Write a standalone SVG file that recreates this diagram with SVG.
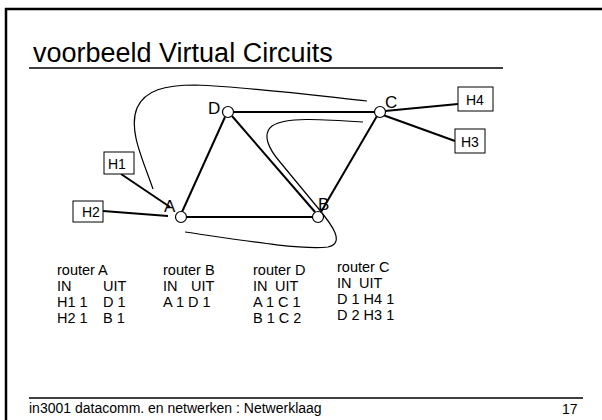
<svg xmlns="http://www.w3.org/2000/svg" width="602" height="420" viewBox="0 0 602 420">
<style>
text{font-family:"Liberation Sans",Arial,sans-serif;fill:#000}
.edge{stroke:#000;stroke-width:2;fill:none}
.vc{stroke:#000;stroke-width:1.2;fill:none}
.router{fill:#fff;stroke:#000;stroke-width:1.2}
.host rect{fill:#fff;stroke:#000;stroke-width:1}
.host text{font-size:14px}
.lbl{font-size:17px}
.tbl{font-size:14.5px}
</style>
<rect x="0" y="0" width="602" height="420" fill="#fff"/>
<g id="frame">
<line x1="5" y1="9" x2="602" y2="9" stroke="#000" stroke-width="2.5"/>
<line x1="6" y1="8" x2="6" y2="420" stroke="#000" stroke-width="2.5"/>
<text x="33" y="62" font-size="27">voorbeeld Virtual Circuits</text>
<line x1="29" y1="68" x2="503" y2="68" stroke="#000" stroke-width="1.5"/>
<line x1="29" y1="398" x2="583" y2="398" stroke="#000" stroke-width="1.5"/>
<text x="29" y="413" font-size="14">in3001 datacomm. en netwerken : Netwerklaag</text>
<text x="562" y="414" font-size="14">17</text>
</g>
<g id="connectors">
<line class="edge" x1="234" y1="112" x2="374" y2="112"/>
<line class="edge" x1="182" y1="212" x2="225" y2="117"/>
<line class="edge" x1="232" y1="116" x2="315" y2="212"/>
<line class="edge" x1="377" y1="116" x2="321" y2="212"/>
<line class="edge" x1="186" y1="217" x2="312" y2="217"/>
<line class="edge" x1="121" y1="174" x2="170" y2="207"/>
<line class="edge" x1="103" y1="211" x2="168" y2="216"/>
<line class="edge" x1="385" y1="111" x2="458" y2="104"/>
<line class="edge" x1="383" y1="115" x2="455" y2="141"/>
<path class="vc" d="M153,189 C143,160 128,130 137,108 C145,90 165,85 195,85 C250,87 320,96 367,101"/>
<path class="vc" d="M363,122 C320,119 285,117 272,126 C262,134 268,148 280,162 L318,208 C333,226 345,243 328,247 C300,250 240,240 185,232"/>
</g>
<g id="A"><circle class="router" cx="181" cy="217" r="5.5"/><text class="lbl" x="164" y="212" font-size="19">A</text></g>
<g id="D"><circle class="router" cx="228" cy="112" r="5.5"/><text class="lbl" x="208" y="114">D</text></g>
<g id="C"><circle class="router" cx="380" cy="112" r="5.5"/><text class="lbl" x="385" y="108">C</text></g>
<g id="B"><circle class="router" cx="318" cy="217" r="5.5"/><text class="lbl" x="318" y="210">B</text></g>
<g id="H1" class="host"><rect x="104" y="152" width="30" height="22"/><text x="108" y="169">H1</text></g>
<g id="H2" class="host"><rect x="73" y="201" width="30" height="21"/><text x="82" y="217">H2</text></g>
<g id="H4" class="host"><rect x="458" y="87" width="35" height="24"/><text x="466" y="105">H4</text></g>
<g id="H3" class="host"><rect x="455" y="129" width="30" height="24"/><text x="461" y="147">H3</text></g>
<g id="tableA">
<text class="tbl" x="57" y="275">router A</text>
<text class="tbl" x="57" y="291">IN</text><text class="tbl" x="103" y="291">UIT</text>
<text class="tbl" x="57" y="307">H1 1</text><text class="tbl" x="103" y="307">D 1</text>
<text class="tbl" x="57" y="323">H2 1</text><text class="tbl" x="103" y="323">B 1</text>
</g>
<g id="tableB">
<text class="tbl" x="163" y="275">router B</text>
<text class="tbl" x="163" y="291">IN</text><text class="tbl" x="191" y="291">UIT</text>
<text class="tbl" x="163" y="307">A 1 D 1</text>
</g>
<g id="tableD">
<text class="tbl" x="253" y="275">router D</text>
<text class="tbl" x="253" y="291">IN</text><text class="tbl" x="275" y="291">UIT</text>
<text class="tbl" x="253" y="307">A 1 C 1</text>
<text class="tbl" x="253" y="323">B 1 C 2</text>
</g>
<g id="tableC">
<text class="tbl" x="337" y="272">router C</text>
<text class="tbl" x="337" y="288">IN</text><text class="tbl" x="359" y="288">UIT</text>
<text class="tbl" x="337" y="304">D 1 H4 1</text>
<text class="tbl" x="337" y="320">D 2 H3 1</text>
</g>
</svg>
